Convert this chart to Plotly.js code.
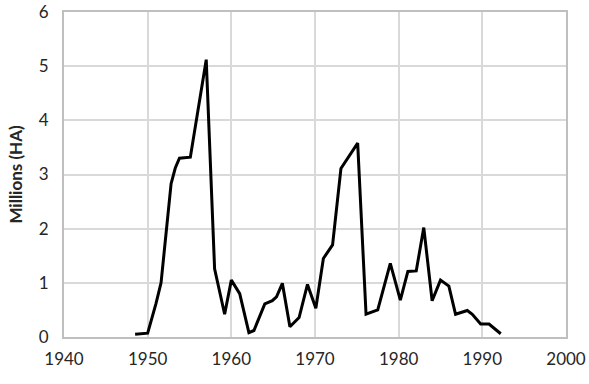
<!DOCTYPE html>
<html>
<head>
<meta charset="utf-8">
<script src="https://cdn.plot.ly/plotly-3.0.1.min.js"></script>
<style>
html,body{margin:0;padding:0;background:#fff;}
#chart{width:589px;height:384px;}
</style>
</head>
<body>
<div id="chart"></div>
<script>
var years = [1948.5, 1950, 1951, 1951.6, 1952.8, 1953.3, 1953.8, 1955.1, 1957, 1958, 1959.2, 1960, 1961, 1962.1, 1962.7, 1964, 1964.9, 1965.4, 1966.1, 1967, 1968.1, 1969.1, 1970.1, 1971, 1972.1, 1973.1, 1975.1, 1976.1, 1977.5, 1979, 1980.2, 1981.1, 1982.1, 1983, 1984, 1985, 1986, 1986.8, 1988.2, 1988.8, 1989.8, 1990.8, 1992.2];
var areaMillionsHa = [0.05, 0.07, 0.62, 1.0, 2.83, 3.12, 3.3, 3.32, 5.12, 1.26, 0.42, 1.05, 0.8, 0.08, 0.12, 0.61, 0.67, 0.74, 0.99, 0.19, 0.36, 0.97, 0.53, 1.45, 1.7, 3.11, 3.58, 0.42, 0.5, 1.36, 0.68, 1.21, 1.22, 2.02, 0.67, 1.05, 0.94, 0.42, 0.49, 0.42, 0.24, 0.24, 0.06];
var xTicks = [1940, 1950, 1960, 1970, 1980, 1990, 2000];
var yTicks = [0, 1, 2, 3, 4, 5, 6];
var yTitle = "Millions (HA)";

var trace = {
  x: years,
  y: areaMillionsHa,
  type: "scatter",
  mode: "lines",
  line: {color: "#000000", width: 3},
  hoverinfo: "skip"
};

var fontFam = "Lato, 'Open Sans', sans-serif";
var layout = {
  width: 589,
  height: 384,
  margin: {l: 64, r: 23, t: 12, b: 47},
  paper_bgcolor: "#ffffff",
  plot_bgcolor: "#ffffff",
  showlegend: false,
  font: {family: fontFam, size: 17, color: "#262626"},
  xaxis: {
    range: [1940, 2000],
    tickvals: xTicks,
    ticktext: xTicks.map(String),
    showgrid: true,
    gridcolor: "#d9d9d9",
    gridwidth: 2,
    zeroline: false,
    showline: true,
    linecolor: "#bfbfbf",
    linewidth: 2,
    mirror: true,
    ticks: "",
    ticklabelstandoff: 6,
    tickfont: {family: fontFam, size: 17, color: "#262626"}
  },
  yaxis: {
    range: [0, 6],
    tickvals: yTicks,
    ticktext: yTicks.map(String),
    showgrid: true,
    gridcolor: "#d9d9d9",
    gridwidth: 2,
    zeroline: false,
    showline: true,
    linecolor: "#bfbfbf",
    linewidth: 2,
    mirror: true,
    ticks: "",
    ticklabelstandoff: 10,
    tickfont: {family: fontFam, size: 17, color: "#262626"},
    title: {text: "<b>" + yTitle + "</b>", standoff: 12, font: {family: fontFam, size: 17, color: "#262626"}}
  }
};

Plotly.newPlot("chart", [trace], layout, {staticPlot: true, displayModeBar: false});
</script>
</body>
</html>
